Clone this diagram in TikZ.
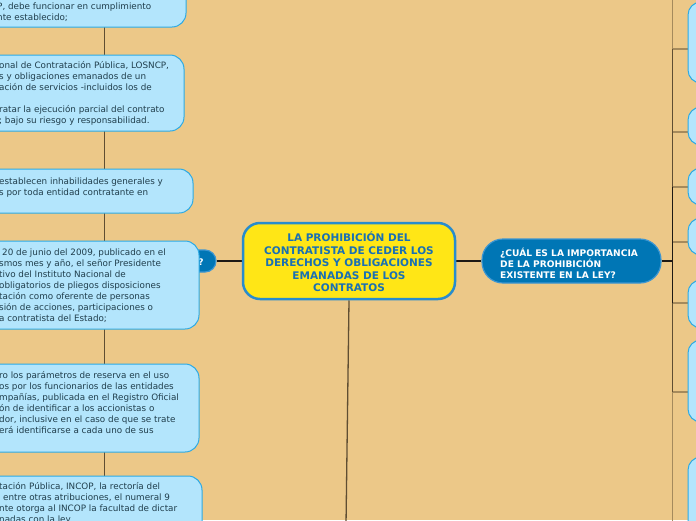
\documentclass[tikz,border=0pt]{standalone}
\usepackage{fontspec}
\setmainfont{DejaVu Sans}
\usetikzlibrary{fit}
\definecolor{bgtan}{RGB}{236,200,136}
\definecolor{boxfill}{RGB}{179,229,252}
\definecolor{boxline}{RGB}{45,170,228}
\definecolor{txtdark}{RGB}{32,62,76}
\definecolor{topicblue}{RGB}{0,118,181}
\definecolor{topicline}{RGB}{60,150,210}
\definecolor{centrefill}{RGB}{255,230,22}
\definecolor{centreline}{RGB}{40,140,205}
\definecolor{centretext}{RGB}{25,112,180}
\definecolor{spinelight}{RGB}{165,138,92}
\definecolor{spinedark}{RGB}{95,78,50}
\definecolor{linkdark}{RGB}{30,25,20}
\pgfdeclarelayer{backdrop}
\pgfdeclarelayer{links}
\pgfsetlayers{backdrop,links,main}
\newcommand{\firstln}{\rule{0pt}{7.5pt}}
\begin{document}
\begin{tikzpicture}[x=1pt,y=-1pt,
  leafbox/.style={draw=boxline, fill=boxfill, line width=1pt, rounded corners=14pt, inner sep=0pt},
  lefttext/.style={anchor=north west, align=left, inner sep=0pt, text=txtdark, font=\fontsize{8.8}{11}\selectfont},
  topicnode/.style={fill=topicblue, draw=topicline, line width=1.2pt, inner sep=0pt},
  topictext/.style={align=left, inner sep=0pt, text=white, font=\bfseries\fontsize{9.1}{11}\selectfont},
  centrenode/.style={draw=centreline, fill=centrefill, line width=2.5pt, rounded corners=17pt, inner sep=0pt},
  centretxt/.style={align=center, inner sep=0pt, text=centretext, font=\bfseries\fontsize{10.5}{12.5}\selectfont},
  mainlink/.style={draw=linkdark, line width=1.1pt},
  spine/.style={line width=1.3pt},
  branch/.style={draw=spinelight, line width=1.4pt}
]
\useasboundingbox (0,0) rectangle (696,520);
\begin{pgfonlayer}{backdrop}
  \fill[bgtan] (0,0) rectangle (696,520);
\end{pgfonlayer}

% central node
\node[centrenode, fit={(243,223) (455,299)}] (C) {};
\node[centretxt] (Ct) at (349,262) {LA PROHIBICIÓN DEL\\CONTRATISTA DE CEDER LOS\\DERECHOS Y OBLIGACIONES\\EMANADAS DE LOS\\CONTRATOS};

% right topic
\node[topicnode, rounded corners=21pt, fit={(482,239) (661,283)}] (T) {};
\node[topictext, anchor=west] (Tt) at (500,263) {¿CUÁL ES LA IMPORTANCIA\\DE LA PROHIBICIÓN\\EXISTENTE EN LA LEY?};

% left topic (mostly hidden)
\node[topicnode, rounded corners=11pt, fit={(150,250) (216,272)}] (Q) {};
\node[topictext] (Qt) at (201,262) {?};

% left boxes
\node[leafbox, fit={(-40,-40) (186,27)}] (L1) {};
\node[lefttext] (L1t) at (-3,1.5) {\firstln P, debe funcionar en cumplimiento\\nte establecido;};
\node[leafbox, fit={(-40,55) (184,131)}] (L2) {};
\node[lefttext] (L2t) at (-1,60.5) {\firstln onal de Contratación Pública, LOSNCP,\\s y obligaciones emanados de un\\ación de servicios -incluidos los de\\\mbox{}\\ratar la ejecución parcial del contrato\\; bajo su riesgo y responsabilidad.};
\node[leafbox, fit={(-40,169) (193,213)}] (L3) {};
\node[lefttext] (L3t) at (-1,176.5) {\firstln establecen inhabilidades generales y\\s por toda entidad contratante en};
\node[leafbox, fit={(-40,241) (199,329)}] (L4) {};
\node[lefttext] (L4t) at (-1,248) {\firstln\hspace{3pt}20 de junio del 2009, publicado en el\\smos mes y año, el señor Presidente\\tivo del Instituto Nacional de\\obligatorios de pliegos disposiciones\\tación como oferente de personas\\sión de acciones, participaciones o\\a contratista del Estado;};
\node[leafbox, fit={(-40,364) (199,452)}] (L5) {};
\node[lefttext] (L5t) at (-1,371) {\firstln ro los parámetros de reserva en el uso\\os por los funcionarios de las entidades\\mpañías, publicada en el Registro Oficial\\ón de identificar a los accionistas o\\dor, inclusive en el caso de que se trate\\erá identificarse a cada uno de sus};
\node[leafbox, fit={(-40,476) (202,560)}] (L6) {};
\node[lefttext] (L6t) at (-1,482) {\firstln tación Pública, INCOP, la rectoría del\\\hspace{4pt}entre otras atribuciones, el numeral 9\\nte otorga al INCOP la facultad de dictar\\nadas con la ley};

% right boxes
\node[leafbox, rounded corners=13pt, fit={(688,2) (760,83)}] (R1) {};
\node[leafbox, rounded corners=13pt, fit={(688,107) (760,145)}] (R2) {};
\node[leafbox, rounded corners=13pt, fit={(688,168) (760,205)}] (R3) {};
\node[leafbox, rounded corners=13pt, fit={(688,218) (760,255)}] (R4) {};
\node[leafbox, rounded corners=13pt, fit={(688,280) (760,328)}] (R5) {};
\node[leafbox, rounded corners=13pt, fit={(688,340) (760,422)}] (R6) {};
\node[leafbox, rounded corners=13pt, fit={(688,457) (760,560)}] (R7) {};

% spine coordinates
\coordinate (ls1) at (104.5,-5);
\coordinate (ls2) at (104.5,525);
\coordinate (cbot) at (346,525);
\coordinate (rs0) at (672.7,-5);
\coordinate (rs1) at (672.7,49);
\coordinate (rs2) at (672.7,132);
\coordinate (rs3) at (672.7,187);
\coordinate (rs4) at (672.7,242);
\coordinate (rs5) at (672.7,303);
\coordinate (rs6) at (672.7,392);
\coordinate (rs9) at (672.7,525);

\begin{pgfonlayer}{links}
  \draw[spine, spinedark] (ls1) -- (ls2);
  \draw[spine, spinedark] (C.south) -- (cbot);
  \draw[mainlink] (Q.east) -- (C.west);
  \draw[mainlink] (C.east) -- (T.west);
  \draw[spine, spinelight] (rs0) -- (rs9);
  \draw[spine, spinedark] (rs1) -- (rs6);
  \draw[spine, linkdark] (rs3) -- (rs5);
  \draw[mainlink] (T.east) -- (T.east -| rs0);
  \draw[branch] (rs1) -- (R1.west |- rs1);
  \draw[branch] (rs2) -- (R2.west |- rs2);
  \draw[branch] (rs3) -- (R3.west |- rs3);
  \draw[branch] (rs4) -- (R4.west |- rs4);
  \draw[branch] (rs5) -- (R5.west |- rs5);
  \draw[branch] (rs6) -- (R6.west |- rs6);
\end{pgfonlayer}
\end{tikzpicture}
\end{document}
